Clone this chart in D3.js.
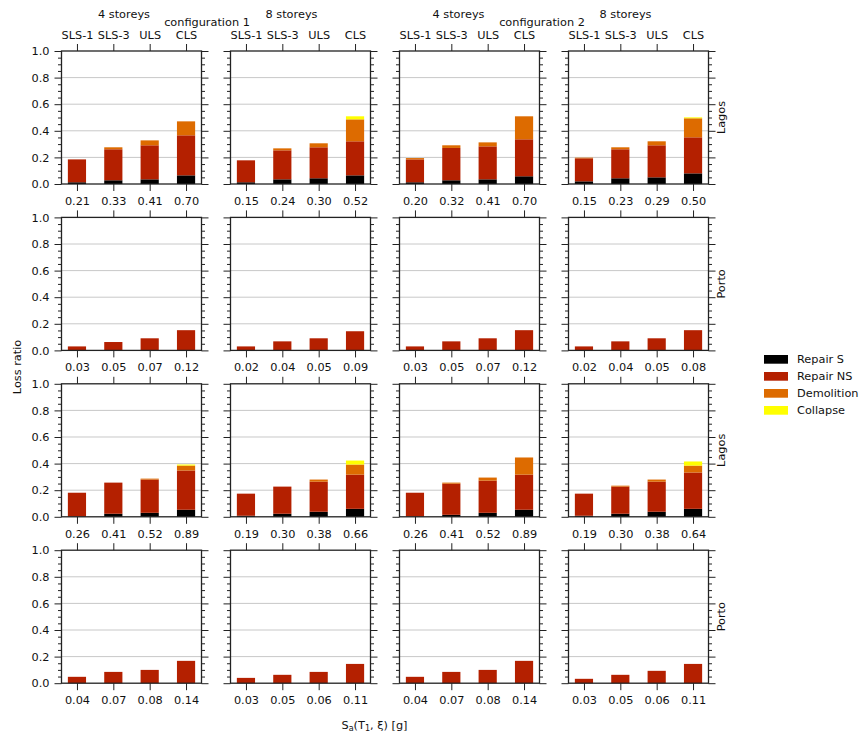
<!DOCTYPE html>
<html>
<head>
<meta charset="utf-8">
<script src="https://cdn.jsdelivr.net/npm/d3@7"></script>
<style>
  html, body { margin: 0; padding: 0; background: #fff; }
  svg { display: block; font-family: "DejaVu Sans", sans-serif; }
  text { fill: #111; }
</style>
</head>
<body>
<svg id="chart" width="861" height="736"></svg>
<script>
// ---------------- DATA ----------------
const categories = ["SLS-1", "SLS-3", "ULS", "CLS"];
const series = ["Repair S", "Repair NS", "Demolition", "Collapse"];
const seriesColors = ["#000000", "#b42000", "#dd6b00", "#ffff00"];
const rowLabels = ["Lagos", "Porto", "Lagos", "Porto"];
const colTitles = ["4 storeys", "8 storeys", "4 storeys", "8 storeys"];
const configTitles = ["configuration 1", "configuration 2"];
const yTicks = [0, 0.2, 0.4, 0.6, 0.8, 1.0];

// values indexed [row][column][category]
const repairS = [
  [[0.013, 0.028, 0.035, 0.065], [0.013, 0.035, 0.043, 0.065], [0.013, 0.028, 0.035, 0.058], [0.020, 0.043, 0.050, 0.080]],
  [[0.000, 0.000, 0.000, 0.000], [0.000, 0.000, 0.000, 0.000], [0.000, 0.000, 0.000, 0.000], [0.000, 0.000, 0.000, 0.000]],
  [[0.002, 0.023, 0.030, 0.053], [0.008, 0.023, 0.038, 0.060], [0.002, 0.015, 0.030, 0.053], [0.008, 0.023, 0.038, 0.060]],
  [[0.000, 0.000, 0.000, 0.000], [0.000, 0.000, 0.000, 0.000], [0.000, 0.000, 0.000, 0.000], [0.000, 0.000, 0.000, 0.000]]
];
const repairNS = [
  [[0.172, 0.233, 0.256, 0.301], [0.165, 0.218, 0.233, 0.256], [0.172, 0.243, 0.248, 0.278], [0.173, 0.218, 0.241, 0.271]],
  [[0.030, 0.063, 0.091, 0.152], [0.030, 0.068, 0.091, 0.144], [0.030, 0.068, 0.091, 0.152], [0.030, 0.068, 0.091, 0.152]],
  [[0.179, 0.234, 0.250, 0.295], [0.166, 0.204, 0.226, 0.257], [0.179, 0.234, 0.242, 0.264], [0.166, 0.204, 0.226, 0.273]],
  [[0.048, 0.085, 0.100, 0.168], [0.040, 0.063, 0.085, 0.145], [0.048, 0.085, 0.100, 0.168], [0.033, 0.063, 0.093, 0.145]]
];
const demolition = [
  [[0.000, 0.015, 0.037, 0.105], [0.000, 0.015, 0.030, 0.165], [0.010, 0.020, 0.030, 0.173], [0.005, 0.015, 0.030, 0.143]],
  [[0.000, 0.000, 0.000, 0.000], [0.000, 0.000, 0.000, 0.000], [0.000, 0.000, 0.000, 0.000], [0.000, 0.000, 0.000, 0.000]],
  [[0.000, 0.000, 0.007, 0.037], [0.000, 0.000, 0.016, 0.076], [0.000, 0.008, 0.023, 0.129], [0.000, 0.007, 0.016, 0.052]],
  [[0.000, 0.000, 0.000, 0.000], [0.000, 0.000, 0.000, 0.000], [0.000, 0.000, 0.000, 0.000], [0.000, 0.000, 0.000, 0.000]]
];
const collapse = [
  [[0, 0, 0, 0.000], [0, 0, 0, 0.023], [0, 0, 0, 0.000], [0, 0, 0, 0.007]],
  [[0, 0, 0, 0.000], [0, 0, 0, 0.000], [0, 0, 0, 0.000], [0, 0, 0, 0.000]],
  [[0, 0, 0, 0.008], [0, 0, 0, 0.030], [0, 0, 0, 0.000], [0, 0, 0, 0.031]],
  [[0, 0, 0, 0.000], [0, 0, 0, 0.000], [0, 0, 0, 0.000], [0, 0, 0, 0.000]]
];
// Sa(T1) tick labels [row][column][category]
const saLabels = [
  [["0.21", "0.33", "0.41", "0.70"], ["0.15", "0.24", "0.30", "0.52"], ["0.20", "0.32", "0.41", "0.70"], ["0.15", "0.23", "0.29", "0.50"]],
  [["0.03", "0.05", "0.07", "0.12"], ["0.02", "0.04", "0.05", "0.09"], ["0.03", "0.05", "0.07", "0.12"], ["0.02", "0.04", "0.05", "0.08"]],
  [["0.26", "0.41", "0.52", "0.89"], ["0.19", "0.30", "0.38", "0.66"], ["0.26", "0.41", "0.52", "0.89"], ["0.19", "0.30", "0.38", "0.64"]],
  [["0.04", "0.07", "0.08", "0.14"], ["0.03", "0.05", "0.06", "0.11"], ["0.04", "0.07", "0.08", "0.14"], ["0.03", "0.05", "0.06", "0.11"]]
];

// ---------------- LAYOUT ----------------
const FS = "11.3px";
const panelLeft = 61.5, colStep = 169, panelW = 140;
const rowTop = 51, rowStep = 166.4, panelH = 133;
const titleX = [124, 291.5, 458.5, 625.5];
const configX = [207, 542];

const svg = d3.select("#chart");
const x = d3.scaleLinear().domain([-0.425, 3.425]).range([0, panelW]);
const y = d3.scaleLinear().domain([0, 1]).range([panelH, 0]);
const barW = x(0.5) - x(0);
const minorTicks = d3.range(21).map(i => +(i * 0.05).toFixed(2)).filter(v => Math.round(v * 100) % 20 !== 0);
const seriesArrays = [repairS, repairNS, demolition, collapse];
const stack = d3.stack().keys(series);

function styleAxis(g) {
  g.select(".domain").remove();
  g.selectAll(".tick line").attr("stroke", "#222").attr("stroke-width", 1);
  g.selectAll(".tick text").attr("font-size", FS).attr("font-family", "DejaVu Sans").attr("fill", "#111");
}

for (let r = 0; r < 4; r++) {
  for (let c = 0; c < 4; c++) {
    const g = svg.append("g").attr("transform", `translate(${panelLeft + c * colStep},${rowTop + r * rowStep})`);

    // grid
    g.append("g").selectAll("line").data(yTicks.slice(1, -1)).join("line")
      .attr("x1", 0).attr("x2", panelW)
      .attr("y1", d => y(d)).attr("y2", d => y(d))
      .attr("stroke", "#c8c8c8").attr("stroke-width", 1);

    // data
    const rows = categories.map((cat, i) => {
      const o = { cat, idx: i };
      series.forEach((s, k) => { o[s] = seriesArrays[k][r][c][i]; });
      return o;
    });
    const stacked = stack(rows);
    g.append("g").selectAll("g").data(stacked).join("g")
      .attr("fill", (d, k) => seriesColors[k])
      .selectAll("rect").data(d => d).join("rect")
      .attr("x", d => x(d.data.idx) - barW / 2)
      .attr("width", barW)
      .attr("y", d => y(d[1]))
      .attr("height", d => Math.max(0, y(d[0]) - y(d[1])));

    // axes
    g.append("g").attr("transform", `translate(0,${panelH})`)
      .call(d3.axisBottom(x).tickValues([0, 1, 2, 3]).tickFormat((d, i) => saLabels[r][c][i]).tickSize(7).tickPadding(6))
      .call(styleAxis);
    g.append("g")
      .call(d3.axisTop(x).tickValues([0, 1, 2, 3]).tickFormat((d, i) => r === 0 ? categories[i] : "").tickSize(7).tickPadding(5.5))
      .call(styleAxis);
    g.append("g")
      .call(d3.axisLeft(y).tickValues(yTicks).tickFormat(c === 0 ? d3.format(".1f") : () => "").tickSize(7).tickPadding(5))
      .call(styleAxis);
    g.append("g")
      .call(d3.axisLeft(y).tickValues(minorTicks).tickFormat(() => "").tickSize(3.5))
      .call(styleAxis);
    g.append("g").attr("transform", `translate(${panelW},0)`)
      .call(d3.axisRight(y).tickValues(yTicks).tickFormat(() => "").tickSize(7))
      .call(styleAxis);
    g.append("g").attr("transform", `translate(${panelW},0)`)
      .call(d3.axisRight(y).tickValues(minorTicks).tickFormat(() => "").tickSize(3.5))
      .call(styleAxis);

    // spines
    g.append("rect").attr("x", 0).attr("y", 0).attr("width", panelW).attr("height", panelH)
      .attr("fill", "none").attr("stroke", "#222").attr("stroke-width", 1.3);

    // row label
    if (c === 3) {
      g.append("text")
        .attr("transform", `translate(${panelW + 12.5},${panelH / 2}) rotate(-90)`)
        .attr("text-anchor", "middle").attr("dominant-baseline", "central")
        .attr("font-size", FS).text(rowLabels[r]);
    }
  }
}

// column titles
svg.append("g").selectAll("text").data(colTitles).join("text")
  .attr("x", (d, i) => titleX[i]).attr("y", 14)
  .attr("text-anchor", "middle").attr("dominant-baseline", "central")
  .attr("font-size", FS).text(d => d);
svg.append("g").selectAll("text").data(configTitles).join("text")
  .attr("x", (d, i) => configX[i]).attr("y", 22)
  .attr("text-anchor", "middle").attr("dominant-baseline", "central")
  .attr("font-size", FS).text(d => d);

// axis labels
svg.append("text")
  .attr("transform", "translate(17,367) rotate(-90)")
  .attr("text-anchor", "middle").attr("dominant-baseline", "central")
  .attr("font-size", FS).text("Loss ratio");

const xl = svg.append("text").attr("x", 374.5).attr("y", 729)
  .attr("text-anchor", "middle").attr("font-size", FS);
xl.append("tspan").text("S");
xl.append("tspan").attr("font-size", "8px").attr("dy", 2).text("a");
xl.append("tspan").attr("dy", -2).text("(T");
xl.append("tspan").attr("font-size", "8px").attr("dy", 2).text("1");
xl.append("tspan").attr("dy", -2).text(", ξ) [g]");

// legend
const leg = svg.append("g").attr("transform", "translate(764,355)");
const li = leg.selectAll("g").data(series).join("g")
  .attr("transform", (d, i) => `translate(0,${i * 17})`);
li.append("rect").attr("width", 24).attr("height", 8.7).attr("fill", (d, i) => seriesColors[i]);
li.append("text").attr("x", 33).attr("y", 4.4).attr("dominant-baseline", "central")
  .attr("font-size", FS).text(d => d);
</script>
</body>
</html>
